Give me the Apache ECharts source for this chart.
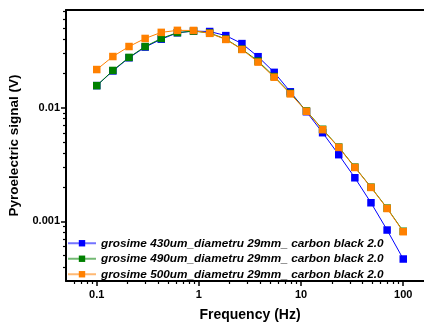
<!DOCTYPE html>
<html>
<head>
<meta charset="utf-8">
<script src="https://cdn.jsdelivr.net/npm/echarts@6/dist/echarts.min.js"></script>
<style>html,body{margin:0;padding:0;background:#fff}#c{width:424px;height:324px}</style>
</head>
<body>
<div id="c"></div>
<script>
const frequency = [0.1, 0.1438, 0.2069, 0.2976, 0.4281, 0.6158, 0.8859, 1.274, 1.833, 2.637, 3.793, 5.456, 7.848, 11.29, 16.24, 23.36, 33.60, 48.33, 69.52, 100];
const s430 = [0.0156, 0.0210, 0.0274, 0.0340, 0.0399, 0.0454, 0.0470, 0.0466, 0.0429, 0.0365, 0.0280, 0.0204, 0.01377, 0.0092, 0.00602, 0.00386, 0.00242, 0.00146, 0.000841, 0.000468];
const s490 = [0.0156, 0.0212, 0.0276, 0.0344, 0.0405, 0.0456, 0.0470, 0.0452, 0.0400, 0.0326, 0.0256, 0.01875, 0.01337, 0.00935, 0.00645, 0.00450, 0.00300, 0.00200, 0.00131, 0.00082];
const s500 = [0.0216, 0.0281, 0.0344, 0.0405, 0.0458, 0.0477, 0.0476, 0.0449, 0.0397, 0.0324, 0.0251, 0.0185, 0.0132, 0.00928, 0.0064, 0.00447, 0.00298, 0.00199, 0.00130, 0.000813];
const seriesNames = ['grosime 430um_diametru 29mm_ carbon black 2.0', 'grosime 490um_diametru 29mm_ carbon black 2.0', 'grosime 500um_diametru 29mm_ carbon black 2.0'];
const seriesColors = ['#0000ff', '#008000', '#ff8000'];
const xTickLabels = ['0.1', '1', '10', '100'];
const yTickLabels = ['0.001', '0.01'];
const xMinorTicks = [0.06, 0.07, 0.08, 0.09, 0.2, 0.3, 0.4, 0.5, 0.6, 0.7, 0.8, 0.9, 2, 3, 4, 5, 6, 7, 8, 9, 20, 30, 40, 50, 60, 70, 80, 90];
const yMinorTicks = [0.0004, 0.0005, 0.0006, 0.0007, 0.0008, 0.0009, 0.002, 0.003, 0.004, 0.005, 0.006, 0.007, 0.008, 0.009, 0.02, 0.03, 0.04, 0.05, 0.06, 0.07];

const xTickVals = xTickLabels.map(Number);
const yTickVals = yTickLabels.map(Number);
function fmt(labels) {
  return function (v) {
    for (const l of labels) { if (Math.abs(Math.log10(v) - Math.log10(Number(l))) < 1e-6) return l; }
    return '';
  };
}
const X = { min: 0.05, max: 200 };
const Y = { min: 0.0003, max: 0.072 };
const chart = echarts.init(document.getElementById('c'), null, { renderer: 'canvas' });
const dataSets = [s430, s490, s500];
const font = 'Liberation Sans, Arial, sans-serif';
chart.setOption({
  animation: false,
  grid: { left: 66, top: 10, width: 368, height: 271, containLabel: false, outerBoundsMode: 'none', show: false },
  legend: {
    left: 67, top: 236, orient: 'vertical', itemWidth: 28, itemHeight: 8, itemGap: 1, padding: 0,
    data: seriesNames,
    textStyle: { fontFamily: font, fontSize: 11.8, lineHeight: 14.5, fontWeight: 'bold', fontStyle: 'italic', color: '#000' },
    lineStyle: { opacity: 0.55, width: 2 }
  },
  xAxis: [{
    type: 'log', logBase: 10, min: X.min, max: X.max,
    name: 'Frequency (Hz)', nameLocation: 'middle', nameGap: 27,
    nameTextStyle: { fontFamily: font, fontSize: 14, fontWeight: 'bold', color: '#000' },
    axisLine: { lineStyle: { color: '#000', width: 2 } },
    axisTick: { inside: false, length: 5, lineStyle: { color: '#000', width: 1.5 }, customValues: xTickVals },
    axisLabel: { customValues: xTickVals, formatter: fmt(xTickLabels), fontFamily: font, fontSize: 11, fontWeight: 'bold', color: '#000', margin: 8 },
    splitLine: { show: false }, minorTick: { show: false }
  }, {
    type: 'log', logBase: 10, min: X.min, max: X.max, position: 'bottom',
    axisLine: { show: false },
    axisTick: { inside: false, length: 3, lineStyle: { color: '#000', width: 1.2 }, customValues: xMinorTicks },
    axisLabel: { show: false }, splitLine: { show: false }
  }, {
    type: 'log', logBase: 10, min: X.min, max: X.max, position: 'top',
    axisLine: { show: true, lineStyle: { color: '#000', width: 2 } },
    axisTick: { show: false }, axisLabel: { show: false }, splitLine: { show: false }
  }],
  yAxis: [{
    type: 'log', logBase: 10, min: Y.min, max: Y.max,
    name: 'Pyroelectric signal (V)', nameLocation: 'middle', nameGap: 39,
    nameTextStyle: { fontFamily: font, fontSize: 13.5, fontWeight: 'bold', color: '#000' },
    axisLine: { lineStyle: { color: '#000', width: 2 } },
    axisTick: { inside: false, length: 5, lineStyle: { color: '#000', width: 1.5 }, customValues: yTickVals },
    axisLabel: { customValues: yTickVals, formatter: fmt(yTickLabels), fontFamily: font, fontSize: 11, fontWeight: 'bold', color: '#000', margin: 6 },
    splitLine: { show: false }, minorTick: { show: false }
  }, {
    type: 'log', logBase: 10, min: Y.min, max: Y.max, position: 'left',
    axisLine: { show: false },
    axisTick: { inside: false, length: 3, lineStyle: { color: '#000', width: 1.2 }, customValues: yMinorTicks },
    axisLabel: { show: false }, splitLine: { show: false }
  }],
  series: dataSets.map((d, i) => ({
    name: seriesNames[i], type: 'line', xAxisIndex: 0, yAxisIndex: 0,
    data: frequency.map((f, j) => [f, d[j]]),
    symbol: 'rect', symbolSize: 7.5,
    itemStyle: { color: seriesColors[i] },
    lineStyle: { color: seriesColors[i], width: 1 },
    z: 2 + i
  }))
});
</script>
</body>
</html>
